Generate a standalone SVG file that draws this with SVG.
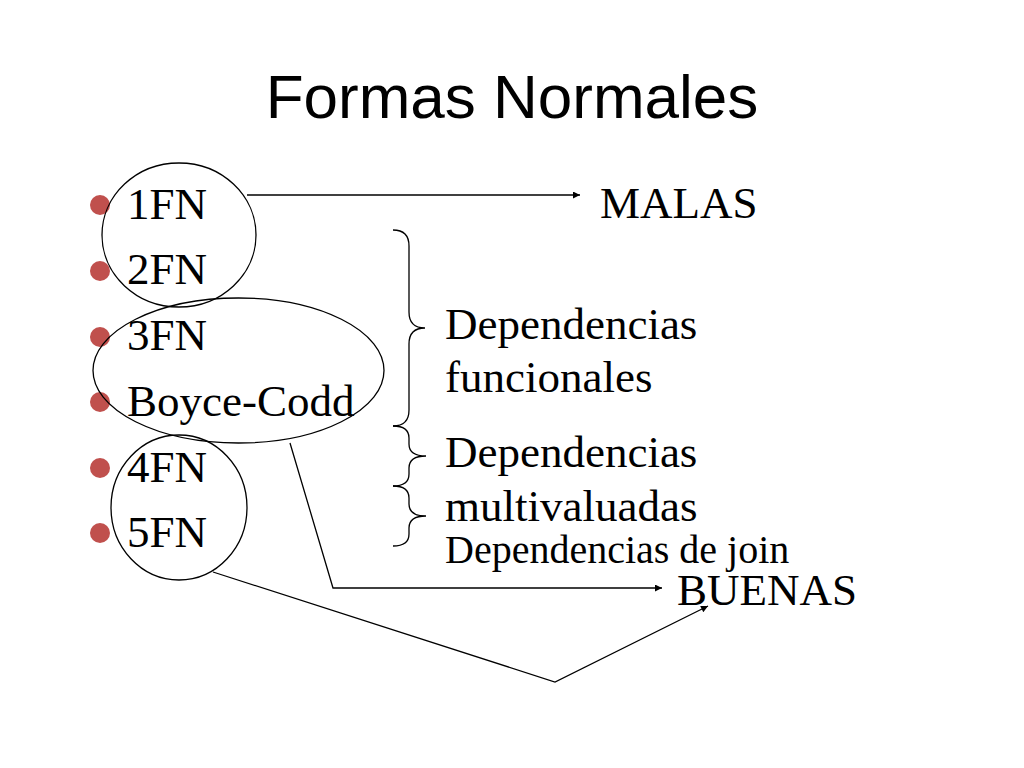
<svg xmlns="http://www.w3.org/2000/svg" width="1024" height="768" viewBox="0 0 1024 768">
<style>
.title{font-family:"Liberation Sans",Arial,sans-serif;font-size:62px;fill:#000}
.t{font-family:"Liberation Serif","Times New Roman",serif;font-size:45px;fill:#000}
.s{font-family:"Liberation Serif","Times New Roman",serif;font-size:40px;fill:#000}
.b{fill:#c0504d}
.ol{fill:none;stroke:#000;stroke-width:1.3}
.ln{fill:none;stroke:#000;stroke-width:1.3}
</style>
<defs>
<marker id="ah" viewBox="0 0 10 10" refX="10" refY="5" markerWidth="8" markerHeight="7" markerUnits="userSpaceOnUse" orient="auto">
<path d="M0,0 L10,5 L0,10 z" fill="#000"/>
</marker>
</defs>
<rect width="1024" height="768" fill="#fff"/>
<text class="title" x="512" y="118" text-anchor="middle">Formas Normales</text>
<g id="bullets">
<g id="n1"><circle class="b" cx="100" cy="205" r="10"/><text class="t" x="127" y="219">1FN</text></g>
<g id="n2"><circle class="b" cx="100" cy="271" r="10"/><text class="t" x="127" y="284">2FN</text></g>
<g id="n3"><circle class="b" cx="100" cy="337" r="10"/><text class="t" x="127" y="350">3FN</text></g>
<g id="n4"><circle class="b" cx="100" cy="402" r="10"/><text class="t" x="127" y="416">Boyce-Codd</text></g>
<g id="n5"><circle class="b" cx="100" cy="468" r="10"/><text class="t" x="127" y="482">4FN</text></g>
<g id="n6"><circle class="b" cx="100" cy="533" r="10"/><text class="t" x="127" y="547">5FN</text></g>
</g>
<g id="groups">
<ellipse id="e1" class="ol" cx="179" cy="235" rx="77" ry="72"/>
<ellipse id="e2" class="ol" cx="238.5" cy="370.5" rx="145.5" ry="72.5"/>
<ellipse id="e3" class="ol" cx="179" cy="507.5" rx="68" ry="72.5"/>
</g>
<g id="braces" class="ol">
<path d="M393,230 Q409,230 409,246 L409,312 Q409,328 425,328 Q409,328 409,344 L409,410 Q409,426 393,426"/>
<path d="M393,426 Q409,426 409,438 L409,444 Q409,456 426,456 Q409,456 409,468 L409,474 Q409,486 393,486"/>
<path d="M393,486 Q409,486 409,498 L409,504 Q409,516 426,516 Q409,516 409,528 L409,534 Q409,546 393,546"/>
</g>
<g id="labels">
<g id="malas"><text class="t" x="600" y="218">MALAS</text></g>
<g id="df"><text class="t" x="445" y="339">Dependencias</text><text class="t" x="445" y="392">funcionales</text></g>
<g id="dm"><text class="t" x="445" y="467">Dependencias</text><text class="t" x="445" y="521">multivaluadas</text></g>
<g id="dj"><text class="s" x="445" y="563">Dependencias de join</text></g>
<g id="buenas"><text class="t" x="677" y="605">BUENAS</text></g>
</g>
<g id="connectors" class="ln">
<path d="M247,195 L580,195" marker-end="url(#ah)"/>
<path d="M290,443 L333,588 L662,588" marker-end="url(#ah)"/>
<path d="M213,572 L555,682 L708,606" marker-end="url(#ah)"/>
</g>
</svg>
